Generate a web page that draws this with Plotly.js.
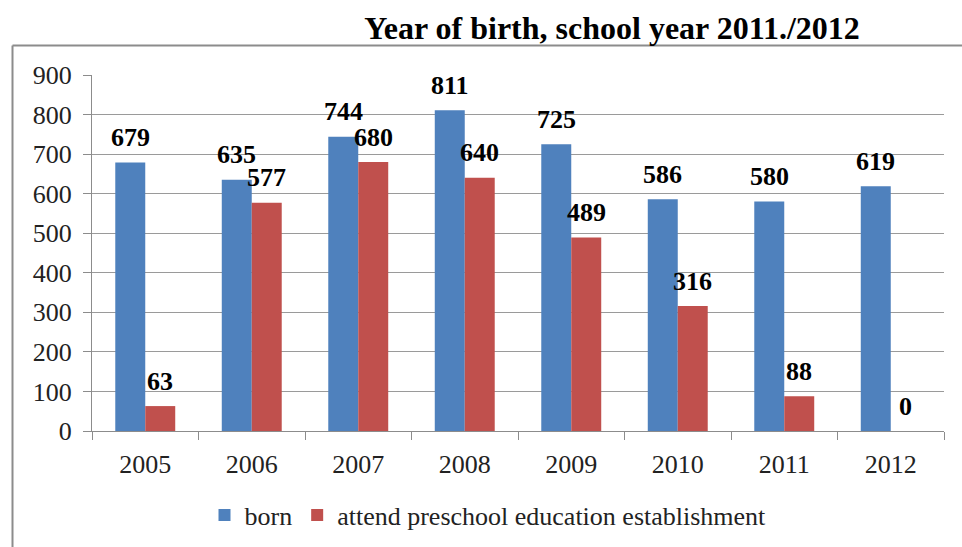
<!DOCTYPE html>
<html>
<head>
<meta charset="utf-8">
<script src="https://cdn.plot.ly/plotly-3.0.1.min.js"></script>
<style>
  html, body { margin: 0; padding: 0; background: #ffffff; }
  #chart { width: 962px; height: 547px; }
</style>
</head>
<body>
<div id="chart"></div>
<script>
// ---- data ----
const years = ["2005", "2006", "2007", "2008", "2009", "2010", "2011", "2012"];
const born = [679, 635, 744, 811, 725, 586, 580, 619];
const attend = [63, 577, 680, 640, 489, 316, 88, 0];
const seriesNames = ["born", "attend preschool education establishment"];
const titleText = "Year of birth, school year 2011./2012";

// ---- styling ----
const W = 962, H = 547;
const M = { l: 92, r: 18, t: 75, b: 116, autoexpand: false };
const plotW = W - M.l - M.r, plotH = H - M.t - M.b;
const blue = "#4F81BD", red = "#C0504D";
const serif = "Liberation Serif";

const px = x => (x - M.l) / plotW;
const py = y => (H - M.b - y) / plotH;

const traces = [
  { type: "bar", name: seriesNames[0], x: years, y: born, marker: { color: blue }, hoverinfo: "skip" },
  { type: "bar", name: seriesNames[1], x: years, y: attend, marker: { color: red }, hoverinfo: "skip" }
];

const annotations = [];
[born, attend].forEach((vals, i) => {
  vals.forEach((v, j) => {
    annotations.push({
      x: j, y: v, xref: "x", yref: "y",
      text: String(v), showarrow: false,
      xshift: i === 0 ? -15 : 15, yshift: 25,
      xanchor: "center", yanchor: "middle",
      font: { family: serif, size: 26, color: "#000", weight: 700 }
    });
  });
});

const lineCol = "#8c8c8c";
const shapes = [
  { type: "line", xref: "paper", yref: "paper", x0: px(12.5), x1: px(962), y0: py(45.5), y1: py(45.5), line: { color: lineCol, width: 2 } },
  { type: "line", xref: "paper", yref: "paper", x0: px(12.5), x1: px(12.5), y0: py(45.5), y1: py(547), line: { color: lineCol, width: 2 } }
];

const layout = {
  width: W, height: H,
  margin: M,
  font: { family: serif, color: "#222" },
  paper_bgcolor: "#ffffff", plot_bgcolor: "#ffffff",
  showlegend: true,
  barmode: "group",
  bargap: 0.437,
  bargroupgap: 0,
  title: {
    text: titleText,
    xref: "container", yref: "container",
    x: 612 / W, xanchor: "center",
    y: 1 - 28 / H, yanchor: "middle",
    font: { family: serif, size: 32, color: "#000", weight: 700 }
  },
  xaxis: {
    type: "category",
    range: [-0.5, years.length - 0.5],
    tickson: "boundaries",
    tickangle: 0,
    ticks: "outside", ticklen: 8, tickcolor: lineCol, tickwidth: 1,
    showline: true, linecolor: lineCol, linewidth: 1,
    showgrid: false,
    tickfont: { family: serif, size: 26, color: "#222" },
    ticklabelstandoff: 10,
    fixedrange: true
  },
  yaxis: {
    range: [0, 900],
    dtick: 100, tick0: 0,
    ticks: "outside", ticklen: 8, tickcolor: lineCol, tickwidth: 1,
    showline: true, linecolor: lineCol, linewidth: 1,
    showgrid: true, gridcolor: "#9a9a9a", gridwidth: 1,
    zeroline: false,
    tickfont: { family: serif, size: 26, color: "#222" },
    ticklabelstandoff: 6,
    fixedrange: true
  },
  legend: {
    orientation: "h",
    x: px(488), xanchor: "center",
    y: py(515), yanchor: "middle",
    font: { family: serif, size: 26, color: "#222" },
    bgcolor: "rgba(0,0,0,0)",
    itemclick: false, itemdoubleclick: false
  },
  annotations: annotations,
  shapes: shapes
};

Plotly.newPlot("chart", traces, layout, { displayModeBar: false, staticPlot: true });
</script>
</body>
</html>
